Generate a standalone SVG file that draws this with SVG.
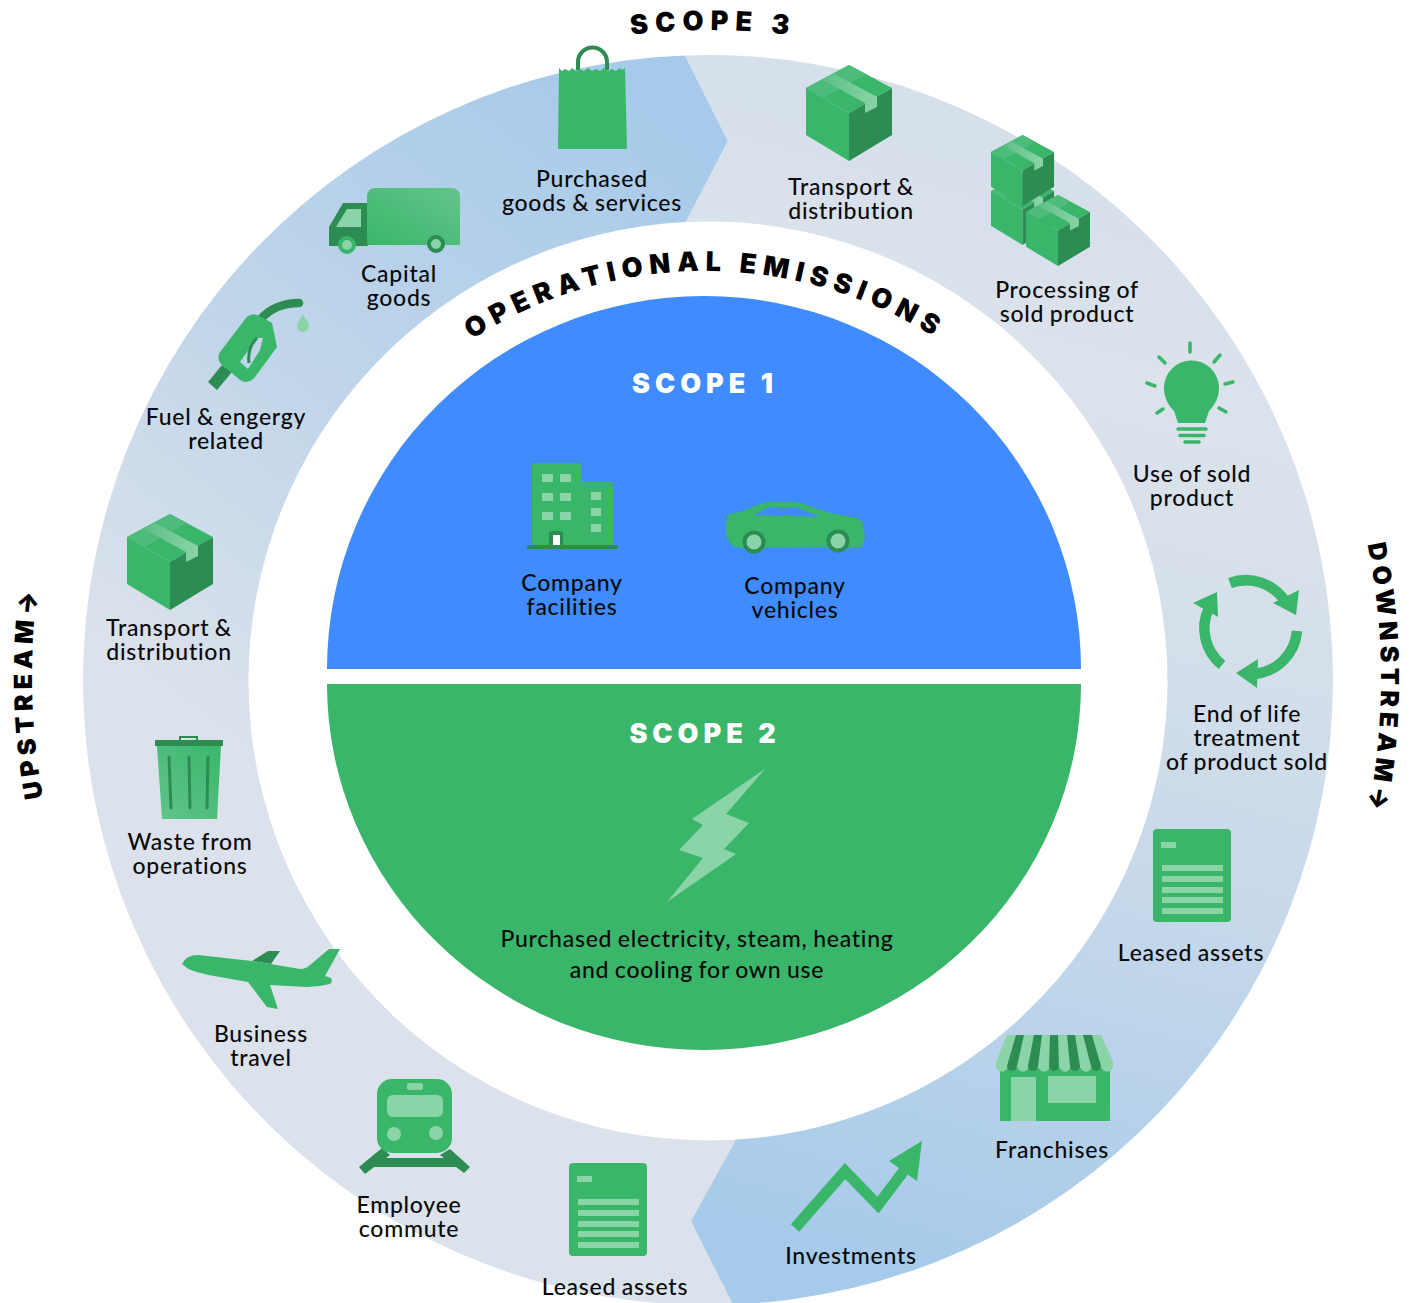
<svg xmlns="http://www.w3.org/2000/svg" xmlns:xlink="http://www.w3.org/1999/xlink" width="1426" height="1303" viewBox="0 0 1426 1303">
<style>
.lbl{font-family:"Lato","Liberation Sans",sans-serif;font-size:23px;font-weight:500;fill:#0a0a0a;text-anchor:middle;letter-spacing:.75px;word-spacing:-1px;transform:translateY(-1px)}
.hd{font-family:"Inter","Lato","DejaVu Sans",sans-serif;font-weight:900;fill:#000;text-anchor:middle}
.g{fill:#3ab66b}.d{fill:#2d8c52}.l{fill:#8ad4a8}
.ds{fill:none;stroke:#2d8c52}
.ray{fill:none;stroke:#3ab66b;stroke-width:3.5;stroke-linecap:round}
.rec{fill:none;stroke:#3ab66b;stroke-width:10.5}
</style>
<defs>
<linearGradient id="ringL" gradientUnits="userSpaceOnUse" x1="720" y1="140" x2="250" y2="760">
<stop offset="0" stop-color="#a6caea"/><stop offset=".55" stop-color="#c0d5e9"/><stop offset="1" stop-color="#dbe2eb"/>
</linearGradient>
<linearGradient id="ringR" gradientUnits="userSpaceOnUse" x1="1000" y1="150" x2="720" y2="1230">
<stop offset="0" stop-color="#d6e0ea"/><stop offset=".18" stop-color="#dbe2eb"/><stop offset=".35" stop-color="#d6e0ea"/><stop offset=".62" stop-color="#c6d8ea"/><stop offset="1" stop-color="#a6caea"/>
</linearGradient>
<linearGradient id="tape" x1="1" y1="0" x2="0" y2="0"><stop offset="0" stop-color="#8ad4a8"/><stop offset="1" stop-color="#5cc085"/></linearGradient>
<linearGradient id="van" x1="0" y1="1" x2="1" y2="0"><stop offset="0" stop-color="#3ab66b"/><stop offset="1" stop-color="#64c48c"/></linearGradient>
<linearGradient id="bin" x1="0" y1="1" x2="1" y2="0"><stop offset="0" stop-color="#62c48c"/><stop offset="1" stop-color="#3ab66b"/></linearGradient>
<g id="box">
<path class="g" d="M43 0L86 23L43 48L0 23Z"/>
<path d="M0 23L43 0L60 9L17 33Z" fill="#4dbc7b"/>
<path class="g" d="M0 23L43 48V96L0 70Z"/>
<path class="d" d="M86 23L43 48V96L86 70Z"/>
<path fill="url(#tape)" d="M17 15L28 9L71 32L59 38V48L71 42V32L59 38Z"/>
</g>
<g id="doc">
<rect class="g" width="78" height="93" rx="4"/>
<g class="l"><rect x="8" y="13" width="15" height="6"/><rect x="9" y="36" width="61" height="6"/><rect x="9" y="47" width="61" height="6"/><rect x="9" y="58" width="61" height="6"/><rect x="9" y="68" width="61" height="6"/><rect x="9" y="79" width="61" height="6"/></g>
</g>
<path id="pScope3" d="M513 60.6A650 650 0 0 1 913 62.6"/>
<path id="pOper" d="M405 392.500A431 431 0 0 1 1005 392.500"/>
<path id="pDown" d="M1350.600 479A673 673 0 0 1 1350.600 879"/>
<path id="pUp" d="M67.400 892A676 676 0 0 1 57.500 492"/>
</defs>

<g id="ring">
<path fill="url(#ringL)" d="M685 55.400L728 141L686 222A459.500 459.500 0 0 0 248.500 681A459.500 459.500 0 0 0 736 1139.600L691 1221L733 1304.500A625 625 0 0 1 83 680A625 625 0 0 1 685 55.400Z"/>
<path fill="url(#ringR)" d="M685 55.400L728 141L686 222A459.500 459.500 0 0 1 1167.500 681A459.500 459.500 0 0 1 736 1139.600L691 1221L733 1304.500A625 625 0 0 0 1333 680A625 625 0 0 0 685 55.400Z"/>
</g>

<g id="scope1">
<path fill="#3f8bff" d="M327 669A377 373 0 0 1 1081 669Z"/>
<text class="hd" x="705" y="393" font-size="27" letter-spacing="5" style="fill:#fff">SCOPE 1</text>
</g>
<g id="scope2">
<path class="g" d="M327 684H1081A377 366 0 0 1 327 684Z"/>
<text class="hd" x="705" y="743" font-size="27" letter-spacing="5" style="fill:#fff">SCOPE 2</text>
<path class="l" d="M766 768L726 814L749 823L724 849L736 854L667 902L703 858L679 850L703 825L692 819Z"/>
<text class="lbl"><tspan x="697" y="948">Purchased electricity, steam, heating</tspan><tspan x="697" y="979">and cooling for own use</tspan></text>
</g>

<g id="titles">
<text class="hd" font-size="27"><textPath href="#pScope3" xlink:href="#pScope3" startOffset="50%" letter-spacing="6.800">SCOPE 3</textPath></text>
<text class="hd" font-size="27"><textPath href="#pOper" xlink:href="#pOper" startOffset="50%" letter-spacing="6.500">OPERATIONAL EMISSIONS</textPath></text>
<text class="hd" font-size="25"><textPath href="#pDown" xlink:href="#pDown" startOffset="50%" letter-spacing="5">DOWNSTREAM→</textPath></text>
<text class="hd" font-size="25"><textPath href="#pUp" xlink:href="#pUp" startOffset="50%" letter-spacing="4.800">UPSTREAM→</textPath></text>
</g>

<g id="company-facilities">
<path class="g" d="M532 466a3 3 0 0 1 3-3h43a3 3 0 0 1 3 3v16h29a3 3 0 0 1 3 3v60h-81Z"/>
<g class="l"><rect x="542" y="474" width="11" height="8"/><rect x="560" y="474" width="11" height="8"/><rect x="542" y="493" width="11" height="8"/><rect x="560" y="493" width="11" height="8"/><rect x="542" y="512" width="11" height="8"/><rect x="560" y="512" width="11" height="8"/><rect x="591" y="492" width="10" height="8"/><rect x="591" y="508" width="10" height="8"/><rect x="591" y="524" width="10" height="8"/></g>
<path class="d" d="M549 545v-11a3 3 0 0 1 3-3h8a3 3 0 0 1 3 3v11Z"/>
<rect x="553" y="535" width="7" height="10" fill="#fff"/>
<rect class="d" x="527" y="545" width="91" height="4" rx="1.5"/>
<text class="lbl"><tspan x="572" y="592">Company</tspan><tspan x="572" y="616">facilities</tspan></text>
</g>
<g id="company-vehicles">
<path class="g" d="M726 533Q725 520 728 515Q730 513 740 512L763 503Q770 501 777 501.700Q790 501 800 503L830 513L857 518Q863 521 863 525L865 537L862 547L843 547L743 548Q733 547 732 545Q727 540 726 533Z"/>
<path fill="#3f8bff" d="M754 515L767 508Q772 507 780 507H792Q797 507 803 510L821 517Z"/>
<circle class="l" cx="754" cy="542" r="9.500" stroke="#2d8c52" stroke-width="4"/>
<circle class="l" cx="838" cy="541" r="9.500" stroke="#2d8c52" stroke-width="4"/>
<text class="lbl"><tspan x="795" y="595">Company</tspan><tspan x="795" y="619">vehicles</tspan></text>
</g>

<g id="purchased-goods">
<path class="ds" stroke-width="4" d="M578 70V62A14.500 14.500 0 0 1 607 62V70"/>
<path class="g" d="M559 68L562 71L565 69L569 71L572 68L576 71L580 69L584 71L588 68L592 71L596 69L600 71L604 68L608 71L612 69L616 71L620 68L622 70L625 68L627 149H558Z"/>
<text class="lbl"><tspan x="592" y="188">Purchased</tspan><tspan x="592" y="212">goods &amp; services</tspan></text>
</g>
<g id="transport-distribution-down">
<use href="#box" xlink:href="#box" x="806" y="65"/>
<text class="lbl"><tspan x="851" y="196">Transport &amp;</tspan><tspan x="851" y="220">distribution</tspan></text>
</g>
<g id="processing">
<use href="#box" xlink:href="#box" transform="translate(991 174) scale(.733 .74)"/>
<use href="#box" xlink:href="#box" transform="translate(991 135) scale(.733 .74)"/>
<use href="#box" xlink:href="#box" transform="translate(1026 195) scale(.744 .74)"/>
<text class="lbl"><tspan x="1067" y="299">Processing of</tspan><tspan x="1067" y="323">sold product</tspan></text>
</g>
<g id="use-of-sold">
<path class="g" d="M1178 423L1174 411C1168 405 1164 397 1164 388A27.500 27.500 0 0 1 1219 388C1219 397 1215 405 1209 411L1205 423Z"/>
<g class="ray"><path d="M1178 429H1206M1180 435.500H1204M1185 442H1199M1190 343V352M1159 357L1165 363M1220 355L1214 362M1147 383L1155 386M1233 382L1225 384M1157 413L1163 409M1226 412L1219 408"/></g>
<text class="lbl"><tspan x="1192" y="483">Use of sold</tspan><tspan x="1192" y="507">product</tspan></text>
</g>
<g id="end-of-life">
<path class="rec" d="M1230 583A47 47 0 0 1 1285 601"/>
<path class="g" d="M1299 590L1296 615L1273 603Z"/>
<path class="rec" d="M1297 631A47 47 0 0 1 1254 674"/>
<path class="g" d="M1258 659L1257 688L1236 673Z"/>
<path class="rec" d="M1222 665A47 47 0 0 1 1209 608"/>
<path class="g" d="M1217 592L1218 617L1193 603Z"/>
<text class="lbl"><tspan x="1247" y="723">End of life</tspan><tspan x="1247" y="747">treatment</tspan><tspan x="1247" y="771">of product sold</tspan></text>
</g>
<g id="leased-assets-down">
<use href="#doc" xlink:href="#doc" x="1153" y="829"/>
<text class="lbl" x="1191" y="962">Leased assets</text>
</g>
<g id="franchises">
<rect class="g" x="1000" y="1066" width="110" height="55"/>
<rect class="l" x="1011" y="1077" width="25" height="44"/>
<rect class="l" x="1048" y="1076" width="48" height="27"/>
<path class="l" d="M1007 1035H1101L1113 1062V1068H996V1062Z"/>
<g class="l"><circle cx="1002" cy="1066" r="5.700"/><circle cx="1023" cy="1066" r="5.700"/><circle cx="1044" cy="1066" r="5.700"/><circle cx="1065" cy="1066" r="5.700"/><circle cx="1086" cy="1066" r="5.700"/><circle cx="1107" cy="1066" r="5.700"/></g>
<g class="d">
<path d="M1016 1035H1024L1017 1066A5 5 0 0 1 1007 1066Z"/>
<path d="M1034 1035H1042L1038 1066A5 5 0 0 1 1028 1066Z"/>
<path d="M1050 1035H1058L1059 1066A5 5 0 0 1 1049 1066Z"/>
<path d="M1067 1035H1075L1080 1066A5 5 0 0 1 1070 1066Z"/>
<path d="M1083 1035H1092L1101 1066A5 5 0 0 1 1091 1066Z"/>
</g>
<text class="lbl" x="1052" y="1159">Franchises</text>
</g>
<g id="investments">
<path fill="none" stroke="#3ab66b" stroke-width="11" d="M795 1228L845 1171L878 1205L906 1168"/>
<path class="g" d="M922 1141L889 1161L917 1181Z"/>
<text class="lbl" x="851" y="1265">Investments</text>
</g>
<g id="leased-assets-up">
<use href="#doc" xlink:href="#doc" x="569" y="1163"/>
<text class="lbl" x="615" y="1296">Leased assets</text>
</g>
<g id="employee-commute">
<path class="d" d="M373 1158H457V1167H373Z"/>
<path class="d" d="M359 1167L365 1174L390 1155L382 1148Z"/>
<path class="d" d="M470 1167L464 1173L440 1155L450 1149Z"/>
<rect class="g" x="377" y="1079" width="75" height="74" rx="15"/>
<g class="l"><rect x="387" y="1095" width="56" height="22" rx="6"/><rect x="407" y="1083" width="16" height="7" rx="2"/><circle cx="394" cy="1134" r="7"/><circle cx="436" cy="1133" r="7"/></g>
<text class="lbl"><tspan x="409" y="1214">Employee</tspan><tspan x="409" y="1238">commute</tspan></text>
</g>
<g id="business-travel">
<path class="d" d="M252 961L268 951L280 951L271 964Z"/>
<path class="g" d="M182 964Q186 955 198 955L252 961L300 969Q306 969 310 965L329 949H340L325 976L331 978Q333 982 330 984Q318 987 307 987L270 985L278 1009L267 1007L248 982L220 977Q195 973 187 968Z"/>
<text class="lbl"><tspan x="261" y="1043">Business</tspan><tspan x="261" y="1067">travel</tspan></text>
</g>
<g id="waste">
<path fill="url(#bin)" d="M157 746H221L217 819H162Z"/>
<rect class="d" x="155" y="740" width="68" height="6"/>
<path class="ds" stroke-width="2" d="M180 740V737H197V740"/>
<g class="ds" stroke-width="3" stroke-linecap="round"><path d="M169 757L171 808M189 757L190 808M208 757L207 808"/></g>
<text class="lbl"><tspan x="190" y="851">Waste from</tspan><tspan x="190" y="875">operations</tspan></text>
</g>
<g id="transport-distribution-up">
<use href="#box" xlink:href="#box" x="127" y="514"/>
<text class="lbl"><tspan x="169" y="637">Transport &amp;</tspan><tspan x="169" y="661">distribution</tspan></text>
</g>
<g id="fuel">
<path class="ds" stroke-width="8.500" stroke-linecap="round" d="M260 320C270 308 285 303 299 303"/>
<path class="d" d="M208 382L217 390L232 372L222 365Z"/>
<path class="g" d="M220 352L246 318Q250 313 258 315L272 323L277 347L255 377Q248 385 240 380L222 365Q216 359 220 352Z"/>
<path fill="#c0d5e8" d="M240 362L257 338H263L260 350L248 369Z"/>
<path class="ds" stroke-width="3" d="M249 363Q247 348 257 338"/>
<path class="l" d="M303 314C305 319 309 322 309 326A6 6 0 0 1 297 326C297 322 301 319 303 314Z"/>
<text class="lbl"><tspan x="226" y="426">Fuel &amp; engergy</tspan><tspan x="226" y="450">related</tspan></text>
</g>
<g id="capital-goods">
<path class="d" d="M329 227L343 203H368V246H329Z"/>
<path class="l" d="M336 227L347 209H361V227Z"/>
<path fill="url(#van)" d="M367 196A8 8 0 0 1 375 188H452A8 8 0 0 1 460 196V245H367Z"/>
<circle class="l" cx="347" cy="245" r="7" stroke="#3ab66b" stroke-width="4"/>
<circle class="l" cx="436" cy="244" r="7" stroke="#2d8c52" stroke-width="4"/>
<text class="lbl"><tspan x="399" y="283">Capital</tspan><tspan x="399" y="307">goods</tspan></text>
</g>
</svg>
